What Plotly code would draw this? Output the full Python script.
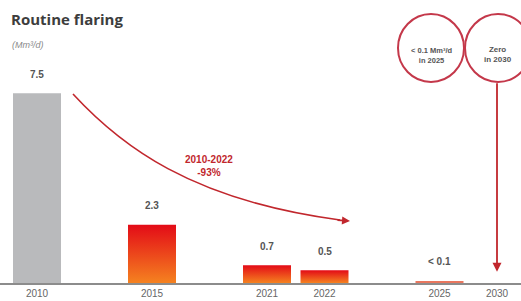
import plotly.graph_objects as go

years = ["2010", "2015", "2021", "2022", "2025", "2030"]
xpos = [0, 2, 4, 5, 7, 8]
values = [7.5, 2.3, 0.7, 0.5, 0.08, 0.0]
labels = ["7.5", "2.3", "0.7", "0.5", "< 0.1", ""]
gradient = [False, True, True, True, False, False]

W, H = 521, 301
T, B = 20, 18
PH = H - T - B
BASE = H - B
UPX = 57.5
X0 = -37 / UPX
XR = [X0, X0 + W / UPX]
YR = [0, PH / 25.3]
BW = 48 / UPX

def px(x):
    return x / W

def py(y):
    return (BASE - y) / PH

RED = "#c1272d"
fig = go.Figure()

for x, v, g in zip(xpos, values, gradient):
    if v <= 0:
        continue
    xs = [x - BW / 2, x + BW / 2, x + BW / 2, x - BW / 2, x - BW / 2]
    ys = [0, 0, v, v, 0]
    if g:
        fig.add_trace(go.Scatter(
            x=xs, y=ys, mode="lines", fill="toself", line=dict(width=0),
            fillgradient=dict(type="vertical", start=0, stop=v,
                              colorscale=[[0, "#f58220"], [1, "#e30b17"]]),
            hoverinfo="skip", showlegend=False))
    else:
        col = "#b9babc" if x == 0 else "#e9775f"
        fig.add_trace(go.Scatter(
            x=xs, y=ys, mode="lines", fill="toself", line=dict(width=0),
            fillcolor=col, hoverinfo="skip", showlegend=False))

for x, v, t in zip(xpos, values, labels):
    if t:
        fig.add_annotation(x=x, y=v, text=f"<b>{t}</b>", showarrow=False, yshift=19,
                           font=dict(family="Liberation Sans", size=10, color="#555555"))

ann = [
    dict(xref="paper", yref="paper", x=px(9), y=py(19), text="<b>Routine flaring</b>",
         xanchor="left", yanchor="middle", showarrow=False,
         font=dict(family="Open Sans", size=15, color="#3d3d3d")),
    dict(xref="paper", yref="paper", x=px(10), y=py(45), text="<i>(Mm³/d)</i>",
         xanchor="left", yanchor="middle", showarrow=False,
         font=dict(family="Liberation Sans", size=9, color="#8a8a8a")),
    dict(xref="paper", yref="paper", x=px(209), y=py(166), text="<b>2010-2022<br>-93%</b>",
         xanchor="center", yanchor="middle", showarrow=False,
         font=dict(family="Liberation Sans", size=10, color=RED)),
    dict(xref="paper", yref="paper", x=px(431), y=py(55), text="<b>< 0.1 Mm³/d<br>in 2025</b>",
         xanchor="center", yanchor="middle", showarrow=False,
         font=dict(family="Liberation Sans", size=7.5, color="#555555")),
    dict(xref="paper", yref="paper", x=px(498), y=py(54), text="<b>Zero<br>in 2030</b>",
         xanchor="center", yanchor="middle", showarrow=False,
         font=dict(family="Liberation Sans", size=8, color="#555555")),
    dict(xref="paper", yref="paper", x=px(350), y=py(221), ax=-14, ay=-1, text="",
         showarrow=True, arrowhead=2, arrowsize=1, arrowwidth=1.6, arrowcolor=RED),
    dict(x=8, y=0.44, ax=0, ay=-(272 - 82), text="", showarrow=True,
         arrowhead=2, arrowsize=1, arrowwidth=1.8, arrowcolor=RED),
]
for a in ann:
    fig.add_annotation(**a)

def P(x, y):
    return f"{px(x)},{py(y)}"

fig.add_shape(type="path", xref="paper", yref="paper",
              path=f"M {P(73,94)} C {P(120,145)} {P(190,200)} {P(340,220)}",
              line=dict(color=RED, width=1.6))
for cx in [431, 498]:
    fig.add_shape(type="circle", xref="paper", yref="paper",
                  x0=px(cx - 33), x1=px(cx + 33), y0=py(48 + 34), y1=py(48 - 34),
                  line=dict(color="#c4384a", width=2))

fig.update_layout(
    width=W, height=H, margin=dict(l=0, r=0, t=T, b=B),
    plot_bgcolor="white", paper_bgcolor="white",
    xaxis=dict(range=XR, tickvals=xpos, ticktext=years, showgrid=False, zeroline=False,
               showline=True, linecolor="#8c8c8c", linewidth=1.5, ticks="",
               tickfont=dict(family="Liberation Sans", size=10, color="#666666"), fixedrange=True),
    yaxis=dict(range=YR, visible=False, fixedrange=True),
)
fig.write_html("out.html", config={"displayModeBar": False},
               post_script="document.body.style.margin='0';document.body.style.overflow='hidden';")
